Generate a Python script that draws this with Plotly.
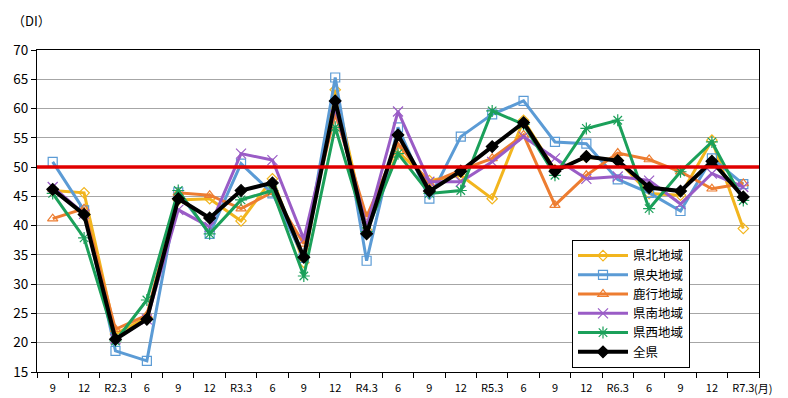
import plotly.graph_objects as go

tick_labels = ["9", "12", "R2.3", "6", "9", "12", "R3.3", "6", "9", "12", "R4.3", "6",
               "9", "12", "R5.3", "6", "9", "12", "R6.3", "6", "9", "12", "R7.3"]

kenpoku = [46.0, 45.6, 21.5, 24.3, 44.4, 44.6, 40.8, 48.0, 33.7, 63.2, 39.3, 52.6,
           47.7, 48.6, 44.6, 58.0, 49.5, 51.7, 51.2, 45.5, 45.2, 54.6, 39.5]
kenou = [50.9, 42.6, 18.6, 16.9, 45.7, 38.6, 50.6, 45.5, 34.5, 65.3, 34.0, 56.8,
         44.6, 55.2, 59.0, 61.3, 54.3, 54.0, 47.9, 45.6, 42.5, 51.5, 47.1]
rokko = [41.2, 42.9, 22.3, 24.7, 45.6, 45.2, 42.9, 45.7, 36.9, 59.2, 41.5, 54.0,
         47.2, 49.5, 51.5, 55.5, 43.5, 48.6, 52.4, 51.3, 49.2, 46.3, 47.2]
kennan = [46.6, 42.0, 20.6, 24.0, 42.7, 39.8, 52.3, 51.2, 37.7, 60.3, 39.8, 59.5,
          47.5, 47.5, 50.9, 55.2, 51.5, 48.0, 48.4, 47.7, 43.7, 48.9, 46.6]
kensei = [45.5, 37.9, 20.3, 27.3, 46.0, 38.6, 44.4, 46.0, 31.4, 56.8, 39.0, 52.3,
          45.5, 46.0, 59.6, 57.3, 48.6, 56.6, 58.0, 42.9, 49.2, 54.3, 44.3]
zenken = [46.2, 41.9, 20.6, 24.0, 44.6, 41.3, 46.0, 47.3, 34.6, 61.3, 38.6, 55.5,
          45.9, 49.3, 53.5, 57.6, 49.3, 51.8, 51.1, 46.5, 45.9, 51.0, 44.9]

series = [
    ("県北地域", kenpoku, "#F2B51E", "diamond-open", 3, 8),
    ("県央地域", kenou, "#5B9BD5", "square-open", 3, 9),
    ("鹿行地域", rokko, "#ED7D31", "triangle-up-open", 3, 9),
    ("県南地域", kennan, "#9A5CC6", "x-thin-open", 3, 10),
    ("県西地域", kensei, "#1BA05A", "asterisk-open", 3, 10),
    ("全県", zenken, "#000000", "diamond", 4, 9),
]

x = list(range(len(tick_labels)))
font = "Noto Sans CJK JP"

fig = go.Figure()
for name, vals, color, sym, lw, ms in series:
    fig.add_trace(go.Scatter(
        x=x, y=vals, name=name, mode="lines+markers",
        line=dict(color=color, width=lw),
        marker=dict(symbol=sym, size=ms, color=color, line=dict(color=color, width=1.2)),
    ))

fig.add_shape(type="line", xref="paper", x0=0, x1=1, yref="y", y0=50, y1=50,
              line=dict(color="#E00000", width=3.5), layer="above")

fig.update_layout(
    width=780, height=390,
    margin=dict(l=29, r=29, t=42, b=26),
    paper_bgcolor="white", plot_bgcolor="white",
    font=dict(family=font, color="#000000"),
    showlegend=True,
    legend=dict(x=0.741, y=0.41, xanchor="left", yanchor="top",
                bordercolor="#000000", borderwidth=1, bgcolor="white",
                font=dict(size=12.5, family=font), tracegroupgap=0,
                itemwidth=50),
    xaxis=dict(range=[-0.5, 22.5], tickmode="array", tickvals=x, ticktext=tick_labels,
               ticks="", showgrid=False, zeroline=False, ticklabelstandoff=6,
               automargin=False,
               showline=True, linecolor="#000000", linewidth=1, mirror=True,
               tickfont=dict(size=11, family=font),
               minor=dict(tickmode="array", tickvals=[i - 0.5 for i in range(len(x) + 1)],
                          ticks="outside", ticklen=5, tickcolor="#000000", showgrid=False)),
    yaxis=dict(range=[15, 70], dtick=5, tick0=15, ticks="outside", ticklen=5,
               tickcolor="#000000", automargin=False,
               showgrid=True, gridcolor="#A6A6A6", gridwidth=1, zeroline=False,
               showline=True, linecolor="#000000", linewidth=1, mirror=True,
               tickfont=dict(size=13.5, family=font)),
    annotations=[
        dict(text="（DI）", xref="paper", yref="paper", x=-0.038, y=1.093,
             xanchor="left", yanchor="middle", showarrow=False,
             font=dict(size=13, family=font)),
        dict(text="(月)", xref="paper", yref="paper", x=0.99, y=-0.05,
             xanchor="left", yanchor="middle", showarrow=False,
             font=dict(size=11, family=font)),
    ],
)

fig.write_html("out.html")
